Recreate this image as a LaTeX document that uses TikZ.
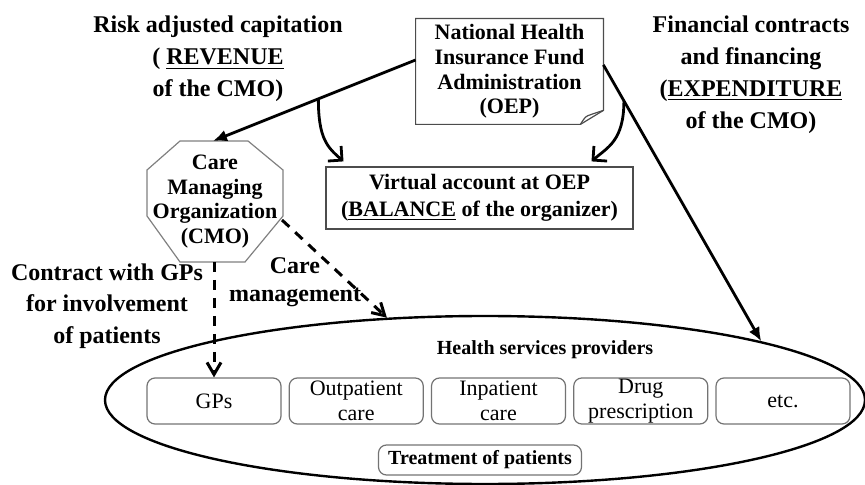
\documentclass[tikz,border=0pt]{standalone}
\usepackage{fontspec}
\setmainfont{Liberation Serif}
\usetikzlibrary{arrows.meta,shapes.geometric}

\begin{document}
\begin{tikzpicture}[x=0.5pt,y=-0.5pt,
  lbl/.style={align=center,inner sep=0pt,font=\fontsize{12}{16}\selectfont\bfseries},
  boxtxt/.style={align=center,inner sep=0pt,font=\fontsize{11}{12.3}\selectfont\bfseries},
  provider/.style={draw=black!55,line width=0.6pt,rounded corners=4pt,minimum width=67pt,minimum height=23pt,align=center,inner sep=0pt,font=\fontsize{11}{12.5}\selectfont},
  money/.style={line width=1.4pt,-{Latex[length=7pt,width=6pt]}},
  split/.style={line width=1.4pt,-{Straight Barb[length=5pt,width=10pt]}},
  care/.style={line width=1.5pt,dash pattern=on 5pt off 4pt,-{Straight Barb[length=6pt,width=7pt]}}]
\useasboundingbox (0,0) rectangle (865,485);

\node[draw,ellipse,line width=1.2pt,minimum width=380pt,minimum height=84pt,inner sep=0pt] (hsp) at (485,400) {};
\node[inner sep=0pt,font=\fontsize{10}{12}\selectfont\bfseries] (hsplbl) at (545,350) {Health services providers};
\foreach \name/\x/\txt in {gps/214/{GPs},outp/356.25/{Outpatient\\care},inp/498.5/{Inpatient\\care},drug/640.75/{Drug\\prescription},etc/783/{etc.}}
  \node[provider] (\name) at (\x,401) {\txt};
\node[provider,minimum width=101.5pt,minimum height=15pt,font=\fontsize{10}{12}\selectfont\bfseries] (treat) at (480,460) {Treatment of patients};

\node[boxtxt,minimum width=93.5pt,minimum height=52.5pt] (oep) at (509.5,71.5) {National Health\\Insurance Fund\\Administration\\(OEP)};
\draw[draw=black!70,line width=0.6pt] (oep.north west) -- (oep.north east) -- ([yshift=7pt]oep.south east) -- ([xshift=-11.5pt]oep.south east) -- (oep.south west) -- cycle;
\draw[draw=black!70,line width=0.6pt] ([yshift=7pt]oep.south east) -- ([xshift=-6pt,yshift=5pt]oep.south east) .. controls ([xshift=-9pt,yshift=4pt]oep.south east) .. ([xshift=-11.5pt]oep.south east);

\node[boxtxt,draw=black!70,line width=0.6pt,minimum width=153.5pt,minimum height=31pt,font=\fontsize{11}{13.5}\selectfont\bfseries] (vacc) at (479.5,198) {Virtual account at OEP\\(\underline{BALANCE} of the organizer)};

\draw[draw=black!50,line width=0.6pt] (180,141) -- (248,141) -- (283,170) -- (283,216) -- (245,262) -- (180,262) -- (147,216) -- (147,170) -- cycle;
\node[boxtxt] (cmo) at (215,201.5) {Care\\Managing\\Organization\\(CMO)};
\coordinate (cmotop) at (213,141);
\coordinate (cmobot) at (214,262);
\coordinate (cmoedge) at (282,220);

\node[lbl] (revenue) at (218,59) {Risk adjusted capitation\\( \underline{REVENUE}\\of the CMO)};
\node[lbl] (expend) at (751,74.5) {Financial contracts\\and financing\\(\underline{EXPENDITURE}\\of the CMO)};
\node[lbl,font=\fontsize{12}{15.75}\selectfont\bfseries] (gpcontract) at (107,306) {Contract with GPs\\for involvement\\of patients};
\node[lbl,font=\fontsize{12}{14}\selectfont\bfseries] (caremgmt) at (295,282.5) {Care\\management};

\draw[money] (oep.173) -- coordinate[pos=0.48] (revsplit) (cmotop);
\draw[money] (oep.4) -- coordinate[pos=0.13] (expsplit) (hsp.12);
\draw[split] (revsplit) .. controls +(0,40) and +(-16,-14) .. ([xshift=-68pt,yshift=2.5pt]vacc.north);
\draw[split] (expsplit) .. controls +(0,40) and +(16,-14) .. ([xshift=56pt,yshift=2.5pt]vacc.north);
\draw[care] (cmobot) -- (gps.north);
\draw[care] (cmoedge) -- (hsp.140);
\end{tikzpicture}
\end{document}
